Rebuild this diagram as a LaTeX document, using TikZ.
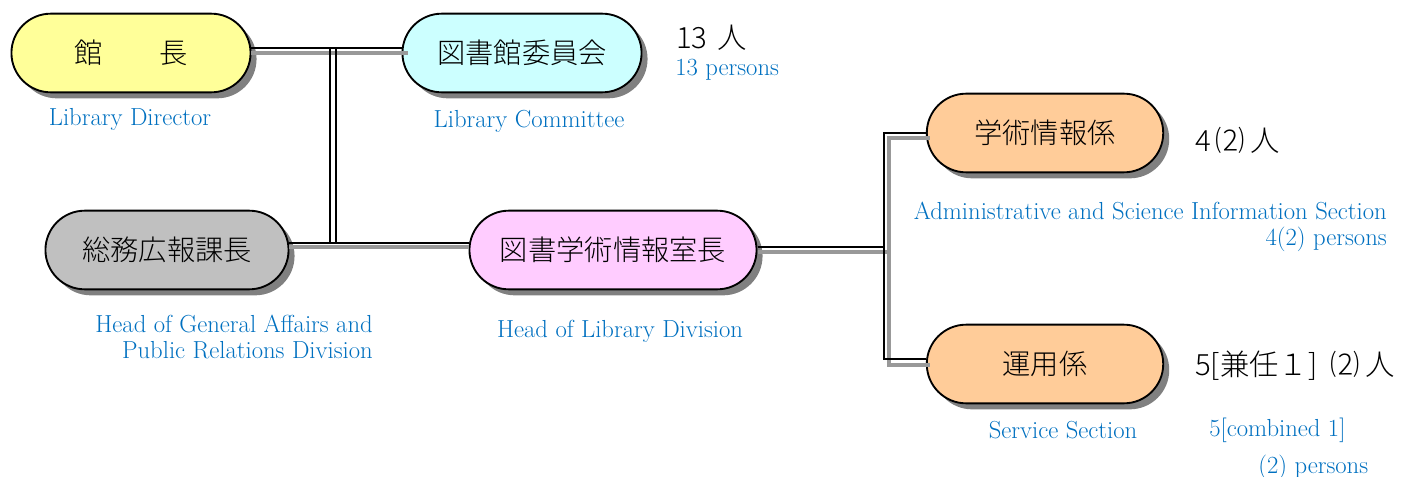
\documentclass[tikz,border=0pt]{standalone}
\usepackage{fontspec}
\newfontfamily\jp{Noto Sans CJK JP Light}
\usetikzlibrary{shapes.misc,shadows}

\definecolor{lblblue}{RGB}{0,112,192}
\definecolor{cyellow}{RGB}{255,255,153}
\definecolor{ccyan}{RGB}{204,255,255}
\definecolor{cgray}{RGB}{192,192,192}
\definecolor{cpink}{RGB}{255,204,255}
\definecolor{corange}{RGB}{255,204,153}

\tikzset{
  post/.style={rounded rectangle, draw, line width=1.4pt, minimum height=59pt,
    font=\jp\fontsize{21.2}{24}\selectfont,
    drop shadow={shadow xshift=4.5pt, shadow yshift=-4.5pt, fill=black!50, opacity=1}},
  eng/.style={text=lblblue, font=\fontsize{18.5}{19.5}\selectfont, inner sep=0pt},
  num/.style={font=\jp\fontsize{22}{24}\selectfont, inner sep=0pt, anchor=west},
  link/.style={line width=1.8pt},
  linkshade/.style={line width=3pt, black!40}
}

\begin{document}
\begin{tikzpicture}[x=0.75pt, y=-0.75pt]
  \useasboundingbox (0,0) rectangle (1402,477);

  % posts
  \node[post, fill=cyellow, minimum width=186pt] (kancho) at (131,53) {館　　長};
  \node[post, fill=ccyan, minimum width=186pt] (iinkai) at (522,53) {図書館委員会};
  \node[post, fill=cgray, minimum width=189pt] (somu) at (167,250) {総務広報課長};
  \node[post, fill=cpink, minimum width=222pt] (shitsu) at (613,250) {図書学術情報室長};
  \node[post, fill=corange, minimum width=184pt] (gakujutsu) at (1045,133) {学術情報係};
  \node[post, fill=corange, minimum width=184pt] (unyo) at (1045,364) {運用係};

  % connectors
  \coordinate (vtop) at (330,48);
  \coordinate (vbot) at (330,243);
  \coordinate (bk) at (884,247);
  \coordinate (gr) at (889,252);

  \draw[linkshade] (kancho.east) -- ([xshift=5pt]iinkai.west);
  \draw[link] ([yshift=3.75pt]kancho.east) -- ([yshift=3.75pt]iinkai.west);
  \draw[linkshade] ([yshift=2.25pt]somu.east) -- ([yshift=2.25pt]shitsu.west);
  \draw[link] ([yshift=5.25pt]somu.east) -- ([yshift=5.25pt]shitsu.west);
  \draw[link] (vtop) -- (vbot);
  \draw[link] ([xshift=4.5pt]vtop) -- ([xshift=4.5pt]vbot);

  \draw[linkshade] ([yshift=-1.5pt]shitsu.east) -- (gr);
  \draw[linkshade] ([yshift=-3.75pt,xshift=3pt]gakujutsu.west) -| (gr) |- ([yshift=-1pt,xshift=3pt]unyo.west);
  \draw[link] ([yshift=2.25pt]shitsu.east) -- (bk);
  \draw[link] (gakujutsu.west) -| (bk) |- ([yshift=3.75pt]unyo.west);

  % labels
  \node[eng] (kancholbl) at (130,119) {Library Director};
  \node[eng] (iinkailbl) at (529,121) {Library Committee};
  \node[num] (iinkainum) at (676,38) {13\,\,人};
  \node[eng, anchor=west] (iinkaiper) at (675,70) {13 persons};
  \node[eng, anchor=east, align=right] (somulbl) at (373,337) {Head of General Affairs and\\Public Relations Division};
  \node[eng] (shitsulbl) at (620,331) {Head of Library Division};
  \node[eng, anchor=east, align=right] (gakulbl) at (1387,227) {Administrative and Science Information Section\\4(2) persons};
  \node[num] (gakunum) at (1195,140) {4\,⑵\,人};
  \node[num] (unyonum) at (1195,366) {5[兼任１]\hspace{10pt}⑵\,人};
  \node[eng] (unyolbl) at (1063,430) {Service Section};
  \node[eng, anchor=west] (unyoper) at (1209,430) {5[combined 1]};
  \node[eng, anchor=west] (unyoper2) at (1258,467) {(2) persons};
\end{tikzpicture}
\end{document}
